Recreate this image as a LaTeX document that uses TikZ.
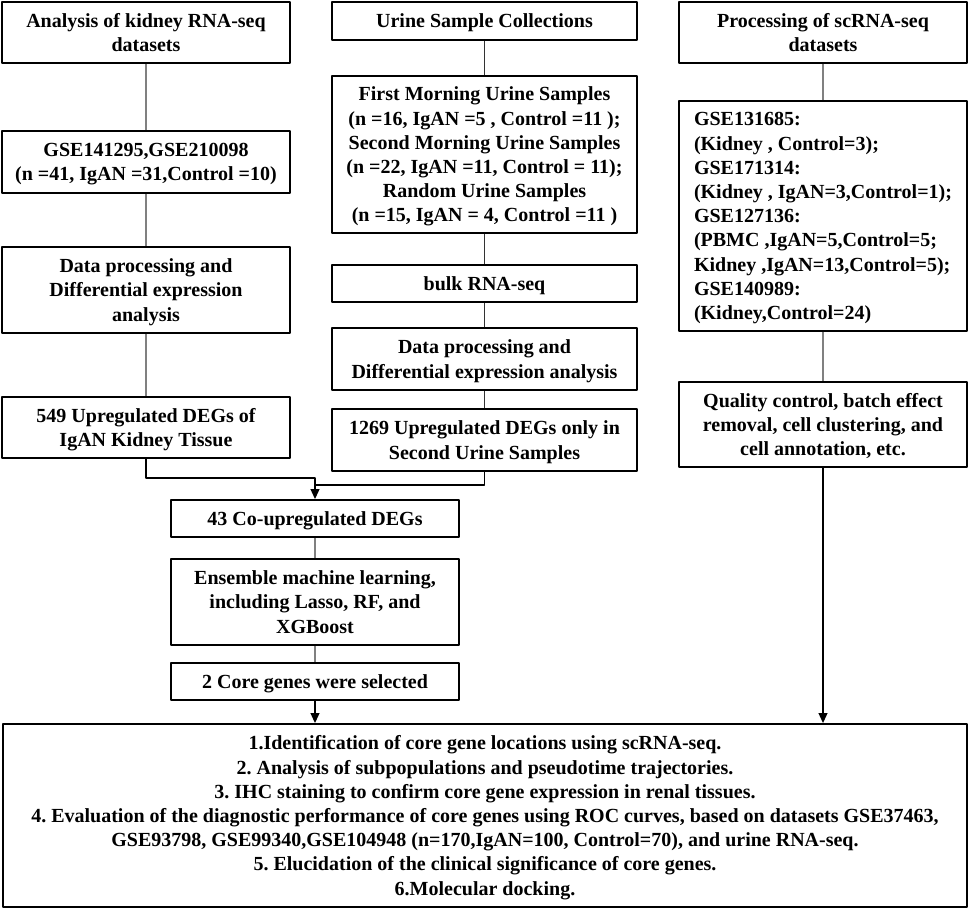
\documentclass[tikz,border=0pt]{standalone}
\usepackage{fontspec}
\setmainfont{Liberation Serif}
\usetikzlibrary{arrows.meta}
\tikzset{
	box/.style={draw,line width=.9pt,inner sep=0pt,align=center,text depth=-2pt,font=\fontsize{10}{12.1}\selectfont\bfseries\frenchspacing},
	colA/.style={box,minimum width=144pt},
	colB/.style={box,minimum width=152.5pt},
	link/.style={draw=gray,line width=.75pt},
	linkB/.style={draw=black!80,line width=.6pt},
	flow/.style={line width=.75pt,-{Triangle[length=5pt,width=4.4pt]}},
}
\begin{document}
\begin{tikzpicture}[x=0.5pt,y=-0.5pt,line join=round]
	\useasboundingbox (0,0) rectangle (969,909);
	% cot trai: RNA-seq mo than
	\node[colA,minimum height=30.5pt] (kid) at (146,32.5) {Analysis of kidney RNA-seq\\datasets};
	\node[colA,minimum height=31pt] (gse) at (146,162) {GSE141295,GSE210098\\(n =41, IgAN =31,Control =10)};
	\node[colA,minimum height=43pt] (proc) at (146,290) {Data processing and\\Differential expression\\analysis};
	\node[colA,minimum height=30.5pt] (up) at (146,427.5) {549 Upregulated DEGs of\\IgAN Kidney Tissue};
	% cot giua: mau nuoc tieu
	\node[colB,minimum height=19pt] (urine) at (484.5,21) {Urine Sample Collections};
	\node[colB,minimum height=78.5pt] (samp) at (484.5,154.5) {First Morning Urine Samples\\(n =16, IgAN =5 , Control =11 );\\Second Morning Urine Samples\\(n =22, IgAN =11, Control = 11);\\Random Urine Samples\\(n =15, IgAN = 4, Control =11 )};
	\node[colB,minimum height=18.5pt] (bulk) at (484.5,283.5) {bulk RNA-seq};
	\node[colB,minimum height=31pt] (procU) at (484.5,359) {Data processing and\\Differential expression analysis};
	\node[colB,minimum height=31pt] (upU) at (484.5,440) {1269 Upregulated DEGs only in\\Second Urine Samples};
	% cot phai: scRNA-seq
	\node[colA,minimum height=30.5pt] (sc) at (823,32.5) {Processing of scRNA-seq\\datasets};
	\node[colA,minimum height=115pt,align=left] (scset) at (823,216) {GSE131685:\\(Kidney , Control=3);\\GSE171314:\\(Kidney , IgAN=3,Control=1);\\GSE127136:\\(PBMC ,IgAN=5,Control=5;\\Kidney ,IgAN=13,Control=5);\\GSE140989:\\(Kidney,Control=24)};
	\node[colA,minimum height=42.5pt] (qc) at (823,424.5) {Quality control, batch effect\\removal, cell clustering, and\\cell annotation, etc.};
	% giua duoi
	\node[colA,minimum height=18.5pt] (co) at (315,518.5) {43 Co-upregulated DEGs};
	\node[colA,minimum height=43pt] (ml) at (315,602) {Ensemble machine learning,\\including Lasso, RF, and\\XGBoost};
	\node[colA,minimum height=18.5pt] (core) at (315,681.5) {2 Core genes were selected};
	\node[box,minimum width=482pt,minimum height=91.5pt] (res) at (485,815.5) {1.Identification of core gene locations using scRNA-seq.\\2. Analysis of subpopulations and pseudotime trajectories.\\3. IHC staining to confirm core gene expression in renal tissues.\\4. Evaluation of the diagnostic performance of core genes using ROC curves, based on datasets GSE37463,\\GSE93798, GSE99340,GSE104948 (n=170,IgAN=100, Control=70), and urine RNA-seq.\\5. Elucidation of the clinical significance of core genes.\\6.Molecular docking.};
	% duong noi
	\draw[link] (kid)--(gse) (gse)--(proc) (proc)--(up);
	\draw[linkB] (urine)--(samp) (samp)--(bulk) (bulk)--(procU) (procU)--(upU);
	\draw[link] (sc)--(scset) (scset)--(qc);
	\draw[link] (co)--(ml) (ml)--(core);
	\coordinate (mergeL) at (315,478);
	\coordinate (mergeR) at (315,485);
	\draw[flow] (up.south) |- (mergeL) -- (co.north);
	\draw[line width=.75pt] (upU.south) |- (mergeR);
	\draw[flow] (core.south) -- (core.south |- res.north);
	\draw[flow] (qc.south) -- (qc.south |- res.north);
\end{tikzpicture}
\end{document}
